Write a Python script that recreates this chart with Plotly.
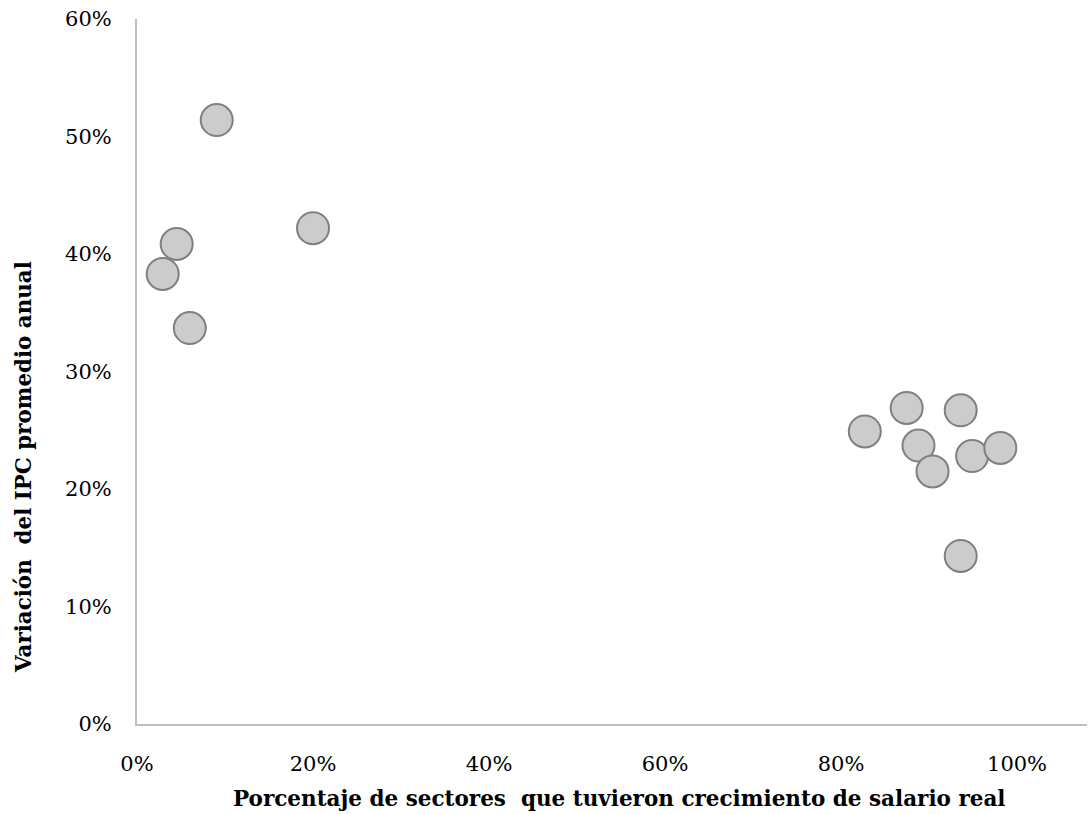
import plotly.graph_objects as go

# Data (fractions)
x_share = [0.0906, 0.0451, 0.0292, 0.0600, 0.2000, 0.8270, 0.8746, 0.8880, 0.9040, 0.9360, 0.9490, 0.9810, 0.9360]
y_ipc = [0.514, 0.4085, 0.383, 0.337, 0.422, 0.249, 0.269, 0.237, 0.215, 0.267, 0.228, 0.235, 0.143]

x_ticks = [0, 0.2, 0.4, 0.6, 0.8, 1.0]
x_ticklabels = ["0%", "20%", "40%", "60%", "80%", "100%"]
y_ticks = [0, 0.1, 0.2, 0.3, 0.4, 0.5, 0.6]
y_ticklabels = ["0%", "10%", "20%", "30%", "40%", "50%", "60%"]

x_title = "Porcentaje de sectores  que tuvieron crecimiento de salario real"
y_title = "Variación  del IPC promedio anual"

FONT = "DejaVu Serif"

fig = go.Figure()
fig.add_trace(go.Scatter(
    x=x_share, y=y_ipc, mode="markers",
    marker=dict(size=32, color="#cccccc", line=dict(color="#808080", width=2)),
    showlegend=False, hoverinfo="x+y",
))

fig.update_layout(
    width=1089, height=814,
    margin=dict(l=137, r=2, t=19, b=90),
    plot_bgcolor="white", paper_bgcolor="white",
    font=dict(family=FONT, size=21, color="#000000"),
    xaxis=dict(
        range=[0, 1.0795], tickvals=x_ticks, ticktext=x_ticklabels,
        showgrid=False, zeroline=False, showline=True, linecolor="#bfbfbf", linewidth=2,
        ticks="", ticklabelstandoff=20, tickfont=dict(family=FONT, size=21),
    ),
    yaxis=dict(
        range=[0, 0.6], tickvals=y_ticks, ticktext=y_ticklabels,
        showgrid=False, zeroline=False, showline=True, linecolor="#bfbfbf", linewidth=2,
        ticks="", ticklabelstandoff=19, tickfont=dict(family=FONT, size=21),
    ),
    annotations=[
        dict(text="<b>" + x_title + "</b>", xref="paper", yref="paper", x=0.508, y=-0.105,
             xanchor="center", yanchor="middle", showarrow=False,
             font=dict(family=FONT, size=21.5)),
        dict(text="<b>" + y_title + "</b>", xref="paper", yref="paper", x=-0.12, y=0.3645,
             xanchor="center", yanchor="middle", showarrow=False, textangle=-90,
             font=dict(family=FONT, size=21.4)),
    ],
)

fig.write_html(
    "out.html",
    config={"displayModeBar": False},
    post_script="document.body.style.margin='0';document.body.style.overflow='hidden';",
)
